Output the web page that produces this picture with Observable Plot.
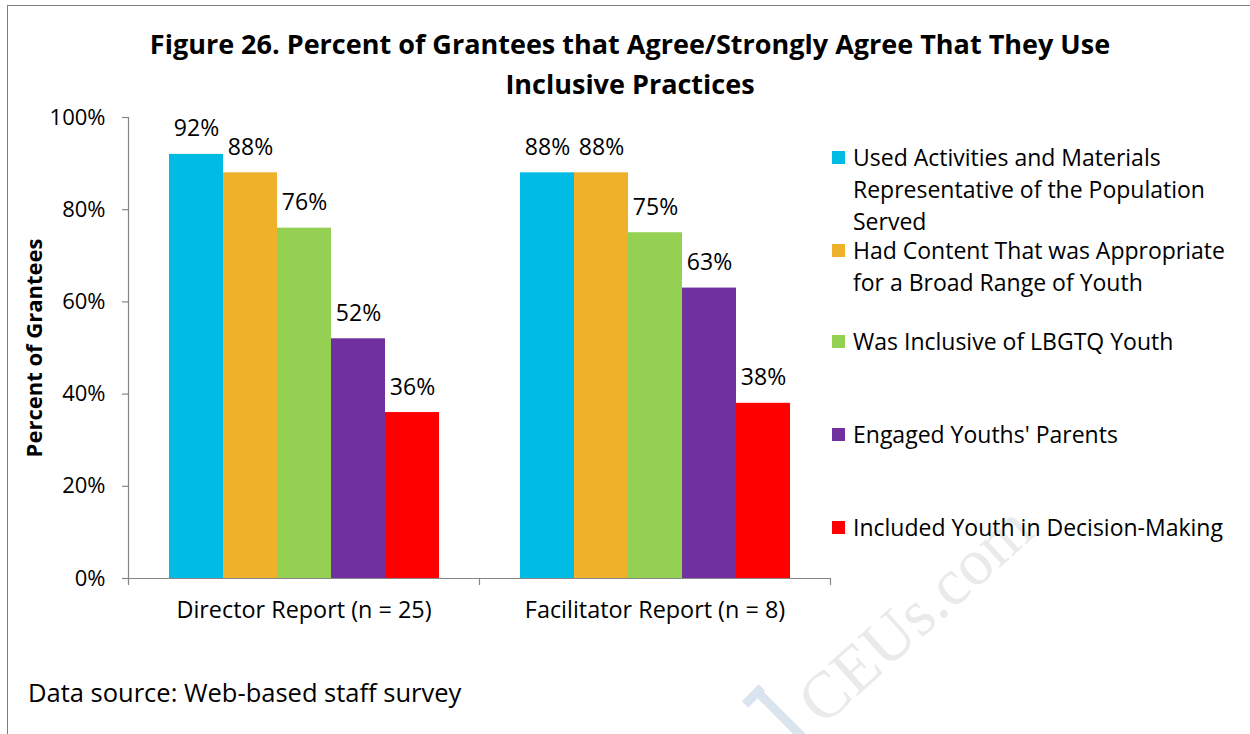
<!DOCTYPE html>
<html>
<head>
<meta charset="utf-8">
<script src="https://cdn.jsdelivr.net/npm/d3@7"></script>
<script src="https://cdn.jsdelivr.net/npm/@observablehq/plot@0.6"></script>
<style>
  html, body { margin: 0; padding: 0; background: #fff; }
  body { width: 1250px; height: 734px; position: relative; overflow: hidden; font-family: "Open Sans", sans-serif; color: #000; }
  #border { position: absolute; left: 7px; top: 5px; width: 1300px; height: 800px; border-left: 1px solid #7f7f7f; border-top: 1px solid #7f7f7f; }
  #title { position: absolute; left: 0; top: 24px; width: 1260px; text-align: center; font-weight: bold; font-size: 27px; line-height: 40px; }
  #chart { position: absolute; left: 0; top: 100px; }
  #ylabel { position: absolute; left: 33px; top: 348px; transform: translate(-50%, -50%) rotate(-90deg); font-weight: bold; font-size: 22px; white-space: nowrap; }
  #legend .item { position: absolute; left: 832px; font-size: 23px; line-height: 32px; }
  #legend .sw { position: absolute; left: 0; top: 10px; width: 13px; height: 13px; }
  #legend .tx { position: absolute; left: 21px; top: 0; white-space: nowrap; }
  #caption { position: absolute; left: 28px; top: 676px; font-size: 25.5px; line-height: 32px; white-space: nowrap; }
  #wm { position: absolute; left: 820px; top: 724px; transform-origin: 0 0; transform: rotate(-42deg) translate(0, -56px); font-family: "Liberation Serif", serif; font-size: 66px; color: #eaeaea; white-space: nowrap; }
  .wl { position: absolute; height: 9px; background: #d9e4ef; transform-origin: 0 50%; }
</style>
</head>
<body>
<div id="border"></div>
<div id="wm">CEUs.com</div>
<div class="wl" style="left:745px; top:700px; width:24px; transform: rotate(-45deg);"></div>
<div class="wl" style="left:756px; top:686px; width:80px; transform: rotate(45deg);"></div>
<div id="title"></div>
<div id="chart"></div>
<div id="ylabel"></div>
<div id="legend"></div>
<div id="caption"></div>
<script>
// ---- Data ----
const titleLines = ["Figure 26. Percent of Grantees that Agree/Strongly Agree That They Use", "Inclusive Practices"];
const yAxisLabel = "Percent of Grantees";
const captionText = "Data source: Web-based staff survey";
const groups = ["Director Report (n = 25)", "Facilitator Report (n = 8)"];
const series = [
  "Used Activities and Materials Representative of the Population Served",
  "Had Content That was Appropriate for a Broad Range of Youth",
  "Was Inclusive of LBGTQ Youth",
  "Engaged Youths' Parents",
  "Included Youth in Decision-Making"
];
const legendLines = [
  ["Used Activities and Materials", "Representative of the Population", "Served"],
  ["Had Content That was Appropriate", "for a Broad Range of Youth"],
  ["Was Inclusive of LBGTQ Youth"],
  ["Engaged Youths' Parents"],
  ["Included Youth in Decision-Making"]
];
const directorValues = [0.92, 0.88, 0.76, 0.52, 0.36];
const facilitatorValues = [0.88, 0.88, 0.75, 0.63, 0.38];
const seriesColors = ["#00BCE4", "#F0B12A", "#94D152", "#7030A0", "#FF0000"];
const yTicks = [0, 0.2, 0.4, 0.6, 0.8, 1.0];

// ---- Table ----
const groupValues = [directorValues, facilitatorValues];
const rows = groups.flatMap((g, gi) => series.map((s, si) => ({group: g, series: s, value: groupValues[gi][si]})));
const pct = d3.format(".0%");

// ---- Title / labels ----
document.getElementById("title").innerHTML = titleLines.map(t => `<div>${t}</div>`).join("");
document.getElementById("ylabel").textContent = yAxisLabel;
document.getElementById("caption").textContent = captionText;

const axisGray = "#868686";
const chart = Plot.plot({
  width: 850,
  height: 538,
  marginLeft: 128,
  marginRight: 20,
  marginTop: 17,
  marginBottom: 60,
  style: {fontFamily: "Open Sans, sans-serif", fontSize: "20px", color: "#000", background: "transparent", overflow: "visible"},
  fx: {domain: groups, padding: 0, axis: null, label: null},
  x: {domain: series, paddingInner: 0, paddingOuter: 0.75, axis: null, label: null},
  y: {domain: [0, 1], axis: null, label: null},
  color: {domain: series, range: seriesColors},
  marks: [
    Plot.barY(rows, {fx: "group", x: "series", y: "value", fill: "series"}),
    Plot.ruleY([0], {stroke: axisGray, strokeWidth: 1.2}),
    Plot.frame({anchor: "left", facetAnchor: "left", stroke: axisGray, strokeWidth: 1.2}),
    Plot.frame({anchor: "left", stroke: axisGray, strokeWidth: 1.2, insetTop: 461, insetBottom: -6}),
    Plot.frame({anchor: "right", facetAnchor: "right", stroke: axisGray, strokeWidth: 1.2, insetTop: 461, insetBottom: -6}),
    Plot.axisY({ticks: yTicks, tickFormat: pct, tickSize: 6, tickPadding: 17, stroke: axisGray, strokeWidth: 1.2, color: "#000", fontSize: 22, label: null}),
    Plot.text(rows, {fx: "group", x: "series", y: "value", text: d => pct(d.value), lineAnchor: "bottom", dy: -18, fontSize: 23, fill: "#000"}),
    Plot.axisFx({anchor: "bottom", tickSize: 0, tickPadding: 23, fontSize: 23.4, label: null, color: "#000"})
  ]
});
document.getElementById("chart").appendChild(chart);

// ---- Legend ----
const legendTop = [141, 234, 325, 418, 511];
const legend = document.getElementById("legend");
series.forEach((s, i) => {
  const item = document.createElement("div");
  item.className = "item";
  item.style.top = legendTop[i] + "px";
  item.innerHTML = `<div class="sw" style="background:${seriesColors[i]}"></div><div class="tx">${legendLines[i].join("<br>")}</div>`;
  legend.appendChild(item);
});
</script>
</body>
</html>
